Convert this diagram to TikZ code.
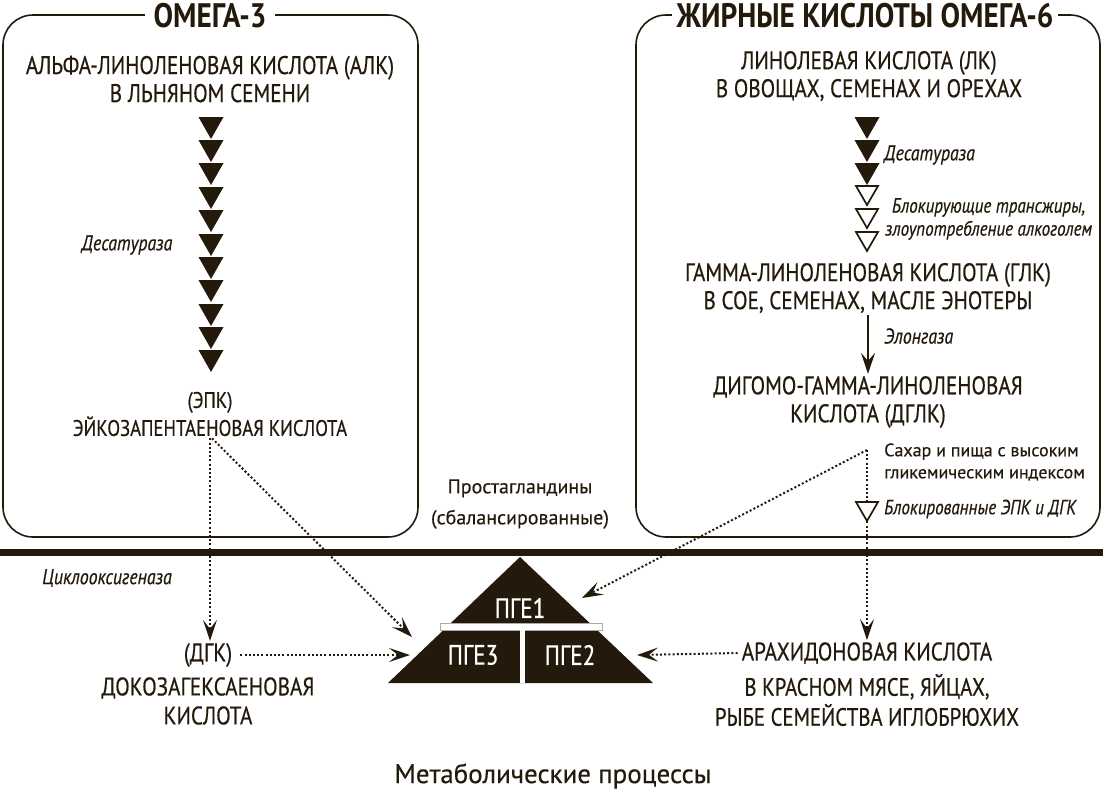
\documentclass[tikz,border=0pt]{standalone}
\usepackage{fontspec}
\setmainfont[FakeStretch=0.83,FakeBold=0.5]{PT Sans}
\newfontfamily\plainfont[FakeBold=0.4]{PT Sans}
\newfontfamily\headfont[FakeStretch=0.86]{PT Sans}
\usetikzlibrary{arrows.meta}
\definecolor{hink}{RGB}{35,26,12}
\definecolor{hgrey}{RGB}{170,170,170}
\tikzset{
  capslbl/.style={align=center,text=hink,inner sep=2pt,font=\fontsize{25.5}{28}\selectfont},
  enzlbl/.style={align=center,text=hink,inner sep=0pt,font=\fontsize{21.5}{23}\selectfont\itshape},
  plainlbl/.style={align=center,text=hink,inner sep=2pt,font=\plainfont\fontsize{20}{31}\selectfont},
  titlelbl/.style={fill=white,text=hink,inner xsep=9pt,inner ysep=0pt,font=\headfont\fontsize{34}{34}\selectfont\bfseries},
  pgelbl/.style={text=white,inner sep=0pt,font=\fontsize{28}{28}\selectfont},
  dotarrow/.style={hink,line width=2pt,dash pattern=on 2pt off 2.2pt,-{Stealth[length=21pt,width=14pt,inset=9pt]}},
  solidarrow/.style={hink,line width=2pt,-{Stealth[length=21pt,width=14pt,inset=8pt]}},
  fulltri/.pic={\fill[hink] (-12.5,0) -- (12.5,0) -- (0,22) -- cycle;},
  opentri/.pic={\draw[hink,fill=white,line width=1.7pt,line join=miter] (-11,1) -- (11,1) -- (0,20) -- cycle;}
}
\begin{document}
\begin{tikzpicture}[x=1pt,y=-1pt]
\useasboundingbox (0,0) rectangle (1103,798);
\draw[hink,line width=1.6pt,rounded corners=30pt] (3,15) rectangle (418,537);
\draw[hink,line width=1.6pt,rounded corners=30pt] (636,15) rectangle (1100,537);
\draw[hink,line width=7pt] (0,552) -- (1103,552);
\node[titlelbl] (om3) at (210,16) {ОМЕГА-3};
\node[titlelbl,inner xsep=5pt] (om6) at (865,16) {ЖИРНЫЕ КИСЛОТЫ ОМЕГА-6};
\node[capslbl] (ala) at (210,79) {АЛЬФА-ЛИНОЛЕНОВАЯ КИСЛОТА (АЛК)\\В ЛЬНЯНОМ СЕМЕНИ};
\pic at (211,117) {fulltri};
\pic at (211,140) {fulltri};
\pic at (211,163) {fulltri};
\pic at (211,187) {fulltri};
\pic at (211,210) {fulltri};
\pic at (211,234) {fulltri};
\pic at (211,257) {fulltri};
\pic at (211,280) {fulltri};
\pic at (211,304) {fulltri};
\pic at (211,327) {fulltri};
\pic at (211,350) {fulltri};
\node[enzlbl] (desl) at (127,245) {Десатураза};
\node[capslbl,font=\fontsize{22.5}{28}\selectfont] (epk) at (210,414) {(ЭПК)\\ЭЙКОЗАПЕНТАЕНОВАЯ КИСЛОТА};
\node[enzlbl] (cox) at (107,578) {Циклооксигеназа};
\node[capslbl] (dgk) at (208,655) {(ДГК)};
\node[capslbl,font=\fontsize{25.5}{29}\selectfont] (dha) at (208,701) {ДОКОЗАГЕКСАЕНОВАЯ\\КИСЛОТА};
\node[capslbl] (la) at (869,76) {ЛИНОЛЕВАЯ КИСЛОТА (ЛК)\\В ОВОЩАХ, СЕМЕНАХ И ОРЕХАХ};
\pic at (867,117) {fulltri};
\pic at (867,140) {fulltri};
\pic at (867,163) {fulltri};
\pic at (867,185) {opentri};
\pic at (867,208) {opentri};
\pic at (867,231) {opentri};
\node[enzlbl,anchor=west] (desr) at (884,155) {Десатураза};
\node[enzlbl,anchor=west,font=\fontsize{20.5}{23}\selectfont\itshape] (trans) at (885,219) {Блокирующие трансжиры,\\злоупотребление алкоголем};
\node[capslbl] (gla) at (868,288) {ГАММА-ЛИНОЛЕНОВАЯ КИСЛОТА (ГЛК)\\В СОЕ, СЕМЕНАХ, МАСЛЕ ЭНОТЕРЫ};
\node[enzlbl,anchor=west] (elo) at (884,336) {Элонгаза};
\node[capslbl] (dglk) at (868,402) {ДИГОМО-ГАММА-ЛИНОЛЕНОВАЯ\\КИСЛОТА (ДГЛК)};
\coordinate (fork) at (867,450);
\node[plainlbl,anchor=west,align=left,font=\plainfont\fontsize{18}{22}\selectfont] (sugar) at (882,462) {Сахар и пища с высоким\\гликемическим индексом};
\node[enzlbl,anchor=west,font=\fontsize{20.5}{23}\selectfont\itshape] (blocked) at (884,509) {Блокированные ЭПК и ДГК};
\node[plainlbl] (pg) at (520,504) {Простагландины\\(сбалансированные)};
\node[capslbl] (ara) at (867,653) {АРАХИДОНОВАЯ КИСЛОТА};
\node[capslbl,font=\fontsize{25}{30}\selectfont] (arafood) at (867,700) {В КРАСНОМ МЯСЕ, ЯЙЦАХ,\\РЫБЕ СЕМЕЙСТВА ИГЛОБРЮХИХ};
\node[plainlbl,font=\plainfont\fontsize{27}{27}\selectfont] (meta) at (553,776) {Метаболические процессы};
\coordinate (apex) at (520,557);
\coordinate (pyrbl) at (388,683);
\coordinate (pyrbr) at (653,683);
\fill[hink] (apex) -- (pyrbr) -- (pyrbl) -- cycle;
\draw[hgrey,fill=white,line width=0.6pt] (440,623) rectangle (602,630);
\fill[white] (520,630) rectangle (525,683);
\node[pgelbl] (pge1) at (520,608) {ПГЕ1};
\node[pgelbl] (pge3) at (473,655) {ПГЕ3};
\node[pgelbl] (pge2) at (570,655) {ПГЕ2};
\coordinate (pyrw) at (412,637);
\coordinate (pyrl) at (410,655);
\coordinate (pyrn) at (582,598);
\coordinate (pyrr) at (637,655);
\draw[dotarrow] (epk.south) -- (epk.south |- dgk.north);
\draw[dotarrow] ([xshift=2pt]epk.south) -- (pyrw);
\draw[dotarrow,shorten <=6pt] (dgk.east) -- (pyrl);
\draw[dotarrow] (fork) -- (pyrn);
\draw[dotarrow] (fork) -- (ara.north);
\draw[dotarrow,shorten <=2pt] (ara.west) -- (pyrr);
\pic at (867,501) {opentri};
\draw[solidarrow] (gla.south) -- (dglk.north);
\end{tikzpicture}
\end{document}
